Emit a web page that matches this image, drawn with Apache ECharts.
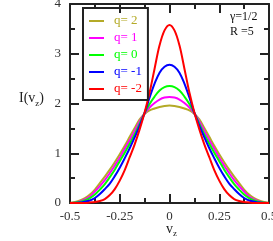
<!DOCTYPE html>
<html><head><meta charset="utf-8">
<script src="https://cdn.jsdelivr.net/npm/echarts@6/dist/echarts.min.js"></script>
<style>html,body{margin:0;padding:0;background:#fff;overflow:hidden}#c{width:273px;height:241px}</style>
</head><body><div id="c"></div>
<script>
const vz = [-0.5,-0.475,-0.45,-0.425,-0.4,-0.375,-0.35,-0.325,-0.3,-0.275,-0.25,-0.225,-0.2,-0.175,-0.15,-0.125,-0.1,-0.075,-0.05,-0.025,0,0.025,0.05,0.075,0.1,0.125,0.15,0.175,0.2,0.225,0.25,0.275,0.3,0.325,0.35,0.375,0.4,0.425,0.45,0.475,0.5];
const qp2 = [0,0.02,0.05,0.10,0.17,0.27,0.40,0.53,0.67,0.82,0.98,1.15,1.33,1.51,1.68,1.79,1.86,1.90,1.93,1.95,1.96,1.95,1.93,1.90,1.86,1.79,1.68,1.51,1.33,1.15,0.98,0.82,0.67,0.53,0.40,0.27,0.17,0.10,0.05,0.02,0];
const qp1 = [0,0.01,0.03,0.07,0.13,0.23,0.34,0.46,0.60,0.75,0.91,1.09,1.26,1.45,1.64,1.80,1.92,2.01,2.08,2.12,2.13,2.12,2.08,2.01,1.92,1.80,1.64,1.45,1.26,1.09,0.91,0.75,0.60,0.46,0.34,0.23,0.13,0.07,0.03,0.01,0];
const q0 = [0,0.01,0.02,0.05,0.10,0.17,0.27,0.38,0.52,0.67,0.84,1.01,1.19,1.38,1.59,1.81,1.99,2.14,2.26,2.33,2.35,2.33,2.26,2.14,1.99,1.81,1.59,1.38,1.19,1.01,0.84,0.67,0.52,0.38,0.27,0.17,0.10,0.05,0.02,0.01,0];
const qm1 = [0,0,0.01,0.03,0.05,0.10,0.18,0.28,0.39,0.54,0.71,0.90,1.10,1.32,1.55,1.81,2.12,2.40,2.62,2.74,2.78,2.74,2.62,2.40,2.12,1.81,1.55,1.32,1.10,0.90,0.71,0.54,0.39,0.28,0.18,0.10,0.05,0.03,0.01,0,0];
const qm2 = [0,0,0,0,0.01,0.02,0.04,0.08,0.16,0.28,0.45,0.66,0.92,1.18,1.48,1.82,2.22,2.70,3.17,3.47,3.58,3.47,3.17,2.70,2.22,1.82,1.48,1.18,0.92,0.66,0.45,0.28,0.16,0.08,0.04,0.02,0.01,0,0,0,0];
const seriesNames = ['q= 2','q= 1','q= 0','q= -1','q= -2'];
const seriesData = [qp2, qp1, q0, qm1, qm2];
const colors = ['#b4aa28','#ff00ff','#00ff00','#0000ff','#ff0000'];
const xTickLabels = ['-0.5','-0.25','0','0.25','0.5'];
const yTickLabels = ['0','1','2','3','4'];

const FONT = '"Liberation Serif", "DejaVu Serif", serif';
const AX = '#222';
const chart = echarts.init(document.getElementById('c'), null, {renderer:'canvas'});
function axisCommon(showLabel){
  return {
    axisLine:{show:true,onZero:false,lineStyle:{color:AX,width:2}},
    axisTick:{show:true,inside:true,length:9,lineStyle:{color:AX,width:2}},
    minorTick:{show:true,splitNumber:2,length:5,lineStyle:{color:AX,width:2}},
    splitLine:{show:false},
    axisLabel:{show:showLabel,color:'#333',fontFamily:FONT,fontSize:13}
  };
}
const xb = Object.assign(axisCommon(true),{type:'value',position:'bottom',min:-0.5,max:0.5,interval:0.25});
xb.axisLabel.margin = 7;
xb.axisLabel.formatter = function(v){ const i = Math.round((v+0.5)/0.25); return xTickLabels[i]; };
xb.axisLabel.showMinLabel = true; xb.axisLabel.showMaxLabel = true;
const xt = Object.assign(axisCommon(false),{type:'value',position:'top',min:-0.5,max:0.5,interval:0.25});
const yl = Object.assign(axisCommon(true),{type:'value',position:'left',min:0,max:4,interval:1});
yl.axisLabel.margin = 9;
yl.axisLabel.formatter = function(v){ return yTickLabels[Math.round(v)]; };
const yr = Object.assign(axisCommon(false),{type:'value',position:'right',min:0,max:4,interval:1});

chart.setOption({
  animation:false,
  backgroundColor:'#fff',
  grid:{left:70,right:4,top:4,bottom:38,containLabel:false,outerBoundsMode:'none'},
  xAxis:[xb, xt],
  yAxis:[yl, yr],
  legend:{
    orient:'vertical',left:83,top:8,
    padding:[6,6,4,6],
    itemWidth:15,itemHeight:2,itemGap:3,
    borderColor:AX,borderWidth:2,
    icon:'rect',
    data: seriesNames.map((n,i)=>({name:n,itemStyle:{color:colors[i]},textStyle:{color:colors[i]}})),
    textStyle:{fontFamily:FONT,fontSize:13,padding:[0,0,0,5],lineHeight:14},
    selectedMode:false
  },
  series: seriesNames.map((n,i)=>({
    name:n,type:'line',xAxisIndex:0,yAxisIndex:0,
    data: vz.map((v,j)=>[v, seriesData[i][j]]),
    smooth:0.35,symbol:'none',showSymbol:false,
    lineStyle:{color:colors[i],width:2},
    itemStyle:{color:colors[i]},
    clip:true
  })),
  graphic:[
    {type:'text',left:230,top:11,style:{text:'γ=1/2',font:'12px '+FONT,fill:'#111'}},
    {type:'text',left:230,top:26,style:{text:'R =5',font:'12px '+FONT,fill:'#111'}},
    {type:'text',left:19,top:91,style:{
      text:'{a|I(v}{s|z}{a|)}',
      rich:{a:{fontFamily:FONT,fontSize:14,fill:'#222',lineHeight:20,verticalAlign:'middle'},
            s:{fontFamily:FONT,fontSize:9,fill:'#222',lineHeight:20,verticalAlign:'bottom'}}}},
    {type:'text',left:166,top:222,style:{
      text:'{a|v}{s|z}',
      rich:{a:{fontFamily:FONT,fontSize:14,fill:'#222',lineHeight:18,verticalAlign:'middle'},
            s:{fontFamily:FONT,fontSize:9,fill:'#222',lineHeight:18,verticalAlign:'bottom'}}}}
  ]
});
</script></body></html>
